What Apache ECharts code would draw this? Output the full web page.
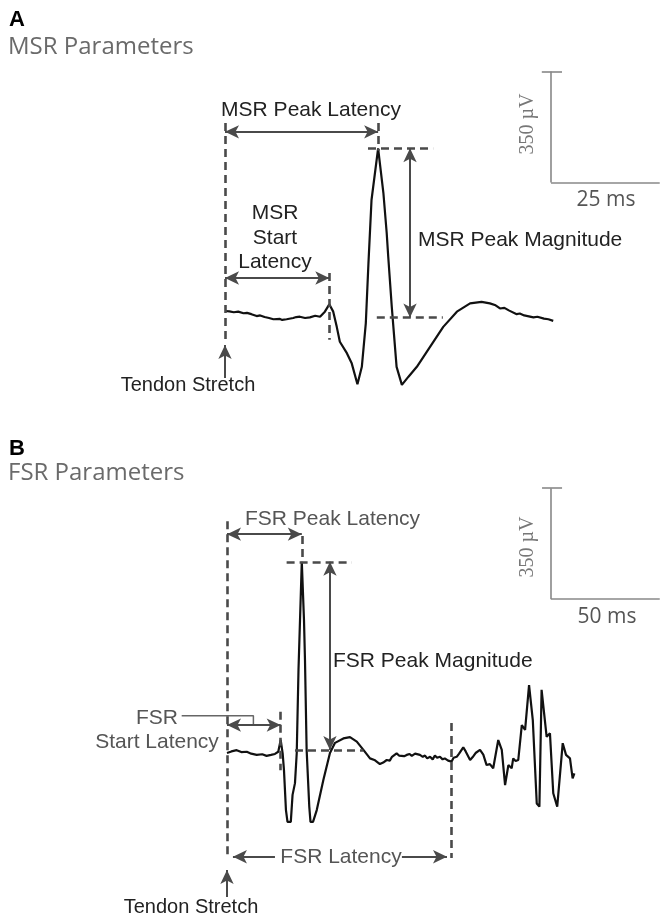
<!DOCTYPE html>
<html><head><meta charset="utf-8">
<script src="https://cdn.jsdelivr.net/npm/echarts@6/dist/echarts.min.js"></script>
<style>html,body{margin:0;padding:0;background:#fff}#c{width:660px;height:918px}</style>
</head><body><div id="c"></div><script>
// ---- Panel A: MSR trace (time in ms after tendon stretch, amplitude in µV) ----
const msrTrace = [[0,0],[1,-1],[2,-4],[3,-2],[4.2,-7],[5,-6],[6,-10],[7.2,-16],[8,-14],[9,-19],[10,-22],[11,-26],[12.5,-25],[13,-28],[14,-26],[15.5,-22],[16.2,-19],[17,-18],[18.2,-22],[19.3,-20],[20.5,-15],[21.6,-18],[22.7,-2],[23.7,21],[24.6,-2],[25.4,-50],[26.1,-97],[27.7,-133],[28.8,-165],[30.1,-231],[31.1,-176],[32.0,-39],[32.6,150],[33.3,350],[34.8,513],[36.0,372],[36.75,246],[37.1,171],[37.9,14],[39.0,-176],[40.2,-233],[41.7,-207],[43.6,-176],[46.6,-113],[49.6,-50],[52.7,-2],[55.7,24],[58.3,29],[60.2,24],[61.5,18],[62.5,8],[63.5,10],[64.5,2],[66.3,-10],[67,-8],[68,-14],[70.1,-20],[71,-18],[72.5,-24],[73.5,-26],[74.6,-31]];
// annotation segments [from, to] in (ms, µV)
const msrDashed = [[[0,593],[0,-91]],[[34.8,593],[34.8,505]],[[32.5,513],[47.3,513]],[[23.7,120],[23.7,-91]],[[34.5,-20.5],[49.5,-20.5]]];
const msrDoubleArrows = [[[0,565],[34.8,565]],[[0,104],[23.7,104]],[[42.05,513],[42.05,-20.5]]];
const msrSingleArrows = [[[0,-211],[0,-107]]];
const msrScaleBar = [[[74.1,755],[74.1,405]],[[74.1,405],[98.8,405]],[[72.0,755],[76.6,755]]];

// ---- Panel B: FSR trace ----
const fsrTrace = [[0,0],[2,5],[4.4,9],[6.5,3],[9,4],[11,-2],[13.5,-6],[16,-4],[18,-9],[20,-6],[21.8,-3],[23.3,4],[24.4,41],[25.3,-1],[25.9,-54],[26.8,-180],[27.5,-217],[29.0,-217],[29.8,-132],[30.9,-95],[31.7,0],[32.5,262],[34.0,603],[35.0,419],[35.45,293],[36.2,10],[37.4,-169],[37.95,-217],[39.1,-217],[40.8,-180],[43.8,-85],[46.8,0],[49.1,32],[52.9,46],[55.9,50],[59.0,36],[62.0,10],[65.0,-17],[67,-22],[69.5,-35],[71,-30],[72.6,-22],[74,-24],[75,-12],[77.1,-1],[78.2,-8],[79,-4],[80.5,-10],[81.7,-6],[83,-3],[84,-9],[85.5,-2],[87.7,-6],[89,-12],[90,-8],[91,-17],[92.3,-12],[93.5,-20],[94.5,-8],[95.5,-15],[96.8,-12],[98,-20],[99,-17],[100.5,-24],[102.1,-27],[103,-15],[104.4,-12],[105.5,-2],[107.4,18],[108.5,5],[110.5,-22],[112,-10],[113,0],[115.0,10],[116.5,-5],[118.0,-38],[119.5,-35],[121.0,-48],[123.3,41],[124.9,10],[126.4,-101],[127.9,-38],[129.4,-48],[130.1,-17],[131.2,-25],[132.4,-22],[134.0,88],[135.5,73],[137.3,214],[139.0,104],[140.8,-159],[142.0,-169],[143.0,199],[145.3,51],[146.8,62],[148.3,-127],[150.1,-169],[152.6,31],[154.1,-6],[155.9,-17],[157.1,-80],[157.9,-64]];
const fsrDashed = [[[0,731],[0,-331]],[[34,684],[34,602]],[[27.1,603],[56.7,603]],[[24.4,130],[24.4,-54]],[[30.9,9.5],[62,9.5]],[[102.1,95],[102.1,-331]]];
const fsrDoubleArrows = [[[0,690],[34,690]],[[0,88],[24.4,88]],[[46.8,603],[46.8,9.5]]];
const fsrSingleArrows = [[[0,-454],[0,-369]],[[21.8,-327],[2.7,-327]],[[79.5,-327],[100,-327]]];
const fsrConnector = [[-20.6,117.6],[12,117.6],[12,88]];
const fsrScaleBar = [[[147.3,835],[147.3,485]],[[147.3,485],[196.7,485]],[[143.2,835],[152.3,835]]];

// ---- Texts ----
const labelsA = ['A','MSR Parameters','MSR Peak Latency','MSR','Start','Latency','MSR Peak Magnitude','Tendon Stretch','350 µV','25 ms'];
const labelsB = ['B','FSR Parameters','FSR Peak Latency','FSR Peak Magnitude','FSR','Start Latency','FSR Latency','Tendon Stretch','350 µV','50 ms'];

const chart = echarts.init(document.getElementById('c'), null, {renderer:'canvas'});
const ANN = '#4a4a4a';
function ml(segs, sym, style, size) {
  return {
    silent: true, animation: false, precision: 3,
    label: {show: false}, emphasis: {disabled: true},
    symbol: sym, symbolSize: size || [10, 14],
    lineStyle: style,
    data: segs.map(s => [{coord: s[0]}, {coord: s[1]}])
  };
}
function panelSeries(ax, trace, dashed, dbl, single, scale) {
  return [
    {type:'line', xAxisIndex:ax, yAxisIndex:ax, data: trace, showSymbol:false, silent:true, animation:false,
     lineStyle:{color:'#111', width:2.2}},
    {type:'line', xAxisIndex:ax, yAxisIndex:ax, data: [], silent:true,
     markLine: ml(dashed, ['none','none'], {color:ANN, width:2.6, type:[8,5]})},
    {type:'line', xAxisIndex:ax, yAxisIndex:ax, data: [], silent:true,
     markLine: ml(dbl, ['arrow','arrow'], {color:ANN, width:2, type:'solid'})},
    {type:'line', xAxisIndex:ax, yAxisIndex:ax, data: [], silent:true,
     markLine: ml(single, ['none','arrow'], {color:ANN, width:2, type:'solid'})},
    {type:'line', xAxisIndex:ax, yAxisIndex:ax, data: [], silent:true,
     markLine: ml(scale, ['none','none'], {color:'#888', width:1.6, type:'solid'})}
  ];
}
const series = panelSeries(0, msrTrace, msrDashed, msrDoubleArrows, msrSingleArrows, msrScaleBar)
  .concat(panelSeries(1, fsrTrace, fsrDashed, fsrDoubleArrows, fsrSingleArrows, fsrScaleBar));
series.push({type:'line', xAxisIndex:1, yAxisIndex:1, data: fsrConnector, showSymbol:false, silent:true, animation:false,
  lineStyle:{color:'#666', width:1.5}});

function txt(t, x, y, font, fill, align, rot) {
  return {type:'text', x: x, y: y, rotation: rot || 0, silent: true,
    style:{text: t, x: 0, y: 0, font: font, fill: fill, align: align || 'left', verticalAlign: 'middle',
           textAlign: align || 'left', textVerticalAlign: 'middle'}};
}
const F = '21px "Liberation Sans", Arial, sans-serif';
const H = '24px "Open Sans", sans-serif';
const graphics = [
  txt(labelsA[0], 9, 20, 'bold 22px "Liberation Sans", sans-serif', '#000'),
  txt(labelsA[1], 8, 47, H, '#6a6a6a'),
  txt(labelsA[2], 311, 110, F, '#222', 'center'),
  txt(labelsA[3], 275, 213, F, '#222', 'center'),
  txt(labelsA[4], 275, 238, F, '#222', 'center'),
  txt(labelsA[5], 275, 262, F, '#222', 'center'),
  txt(labelsA[6], 418, 240, F, '#222', 'left'),
  txt(labelsA[7], 188, 385, '20px "Liberation Sans", sans-serif', '#222', 'center'),
  txt(labelsA[8], 528, 124, '20px "Liberation Serif", serif', '#777', 'center', Math.PI/2),
  txt(labelsA[9], 606, 200, '21px "Open Sans", sans-serif', '#555', 'center'),
  txt(labelsB[0], 9, 449, 'bold 22px "Liberation Sans", sans-serif', '#000'),
  txt(labelsB[1], 8, 473, H, '#6a6a6a'),
  txt(labelsB[2], 245, 519, F, '#555', 'left'),
  txt(labelsB[3], 333, 661, F, '#222', 'left'),
  txt(labelsB[4], 157, 718, F, '#555', 'center'),
  txt(labelsB[5], 157, 742, F, '#555', 'center'),
  txt(labelsB[6], 341, 857, F, '#555', 'center'),
  txt(labelsB[7], 191, 907, '20px "Liberation Sans", sans-serif', '#222', 'center'),
  txt(labelsB[8], 528, 547, '20px "Liberation Serif", serif', '#777', 'center', Math.PI/2),
  txt(labelsB[9], 607, 617, '21px "Open Sans", sans-serif', '#555', 'center')
];

const hidden = {show:false};
chart.setOption({
  animation: false,
  backgroundColor: '#fff',
  grid: [
    {left:0, top:0, width:660, height:440},
    {left:0, top:440, width:660, height:478}
  ],
  xAxis: [
    {type:'value', gridIndex:0, min:-51.136, max:98.864, axisLine:hidden, axisTick:hidden, axisLabel:hidden, splitLine:hidden},
    {type:'value', gridIndex:1, min:-103.18, max:196.82, axisLine:hidden, axisTick:hidden, axisLabel:hidden, splitLine:hidden}
  ],
  yAxis: [
    {type:'value', gridIndex:0, min:-406.7, max:980.6, axisLine:hidden, axisTick:hidden, axisLabel:hidden, splitLine:hidden},
    {type:'value', gridIndex:1, min:-520.2, max:986.9, axisLine:hidden, axisTick:hidden, axisLabel:hidden, splitLine:hidden}
  ],
  series: series,
  graphic: graphics
});
</script></body></html>
